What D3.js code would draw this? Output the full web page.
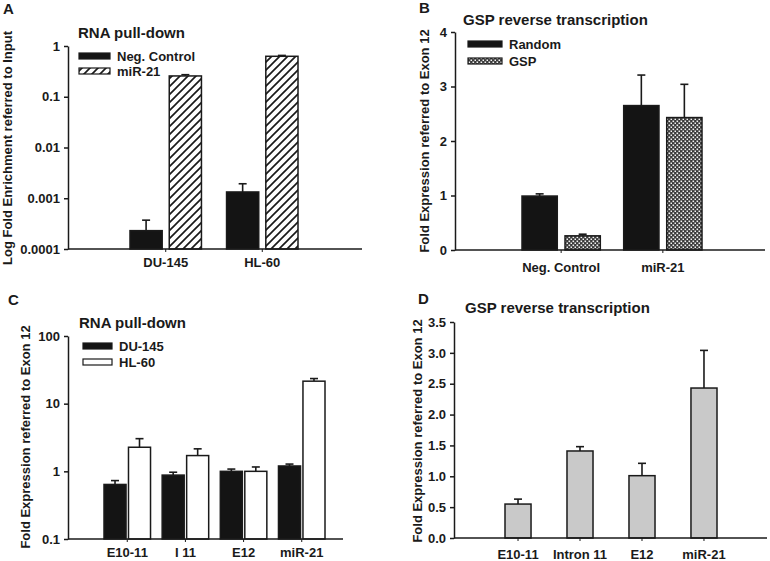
<!DOCTYPE html>
<html lang="en">
<head>
  <meta charset="UTF-8">
  <title>RNA pull-down / GSP reverse transcription</title>
  <style>
    body { margin: 0; background: #ffffff; }
    svg text { font-family: "Liberation Sans", Arial, sans-serif; font-weight: bold; fill: #1a1a1a; }
    .axis path, .axis line { stroke: #1a1a1a; stroke-width: 1.5px; fill: none; }
    .axis text { font-size: 13px; }
    .title { font-size: 15px; }
    .letter { font-size: 15px; }
    .ylabel { font-size: 13px; }
    .legend text { font-size: 13px; }
    .bar { stroke: #1a1a1a; stroke-width: 1.5px; }
    .err { stroke: #1a1a1a; stroke-width: 1.6px; fill: none; }
  </style>
</head>
<body>
<svg id="chart" width="770" height="561"></svg>

<script src="https://cdn.jsdelivr.net/npm/d3@7"></script>
<script>
  "use strict";

  // A: RNA pull-down, enrichment vs input (log)
  var catsA = ["DU-145", "HL-60"];
  var seriesA = ["Neg. Control", "miR-21"];
  var negA = [0.00023, 0.00133];
  var negErrA = [0.00014, 0.0006];
  var mirA = [0.257, 0.627];
  var mirErrA = [0.015, 0.025];
  var ticksA = [0.0001, 0.001, 0.01, 0.1, 1];

  // B: GSP reverse transcription
  var catsB = ["Neg. Control", "miR-21"];
  var seriesB = ["Random", "GSP"];
  var randomB = [0.99, 2.65];
  var randomErrB = [0.04, 0.56];
  var gspB = [0.26, 2.43];
  var gspErrB = [0.03, 0.61];
  var ticksB = [0, 1, 2, 3, 4];

  // C: RNA pull-down, expression vs exon 12 (log)
  var catsC = ["E10-11", "I 11", "E12", "miR-21"];
  var seriesC = ["DU-145", "HL-60"];
  var duC = [0.64, 0.88, 1.0, 1.2];
  var duErrC = [0.09, 0.09, 0.08, 0.08];
  var hlC = [2.27, 1.71, 1.0, 21.5];
  var hlErrC = [0.77, 0.44, 0.16, 2.0];
  var ticksC = [0.1, 1, 10, 100];

  // D: GSP reverse transcription per amplicon
  var catsD = ["E10-11", "Intron 11", "E12", "miR-21"];
  var valsD = [0.55, 1.41, 1.01, 2.43];
  var errD = [0.08, 0.07, 0.2, 0.61];
  var ticksD = [0, 0.5, 1, 1.5, 2, 2.5, 3, 3.5];

  var svg = d3.select("#chart");

  // fill patterns
  var defs = svg.append("defs");
  var hatch = defs.append("pattern")
    .attr("id", "hatch")
    .attr("patternUnits", "userSpaceOnUse")
    .attr("width", 8).attr("height", 8);
  hatch.append("rect").attr("width", 8).attr("height", 8).attr("fill", "#ffffff");
  hatch.append("path")
    .attr("d", "M-2,2 L2,-2 M0,8 L8,0 M6,10 L10,6")
    .attr("stroke", "#1a1a1a").attr("stroke-width", 1.7);

  var checker = defs.append("pattern")
    .attr("id", "checker")
    .attr("patternUnits", "userSpaceOnUse")
    .attr("width", 4).attr("height", 4);
  checker.append("rect").attr("width", 4).attr("height", 4).attr("fill", "#3a3a3a");
  checker.append("rect").attr("x", 0.5).attr("y", 0.5).attr("width", 1.6).attr("height", 1.6).attr("fill", "#f4f4f4");
  checker.append("rect").attr("x", 2.5).attr("y", 2.5).attr("width", 1.6).attr("height", 1.6).attr("fill", "#f4f4f4");

  function drawPanel(p) {
    var g = svg.append("g");

    var y = p.log
      ? d3.scaleLog().domain(p.domain).range([p.yBot, p.yTop])
      : d3.scaleLinear().domain(p.domain).range([p.yBot, p.yTop]);

    var x = d3.scaleBand()
      .domain(p.cats)
      .range(p.band)
      .paddingInner(p.padInner)
      .paddingOuter(0);

    var sub = d3.scaleBand()
      .domain(p.series.map(function(s) { return s.name; }))
      .range([0, x.bandwidth()])
      .paddingInner(p.subPad);

    // bars + error bars
    p.series.forEach(function(s) {
      var rows = p.cats.map(function(c, i) {
        return { cat: c, v: s.values[i], e: s.errors[i] };
      });
      var bx = function(d) { return x(d.cat) + sub(s.name); };
      var cx = function(d) { return bx(d) + sub.bandwidth() / 2; };

      g.selectAll(null)
        .data(rows)
        .enter()
        .append("line")
        .attr("class", "err")
        .attr("x1", cx).attr("x2", cx)
        .attr("y1", function(d) { return y(d.v); })
        .attr("y2", function(d) { return y(d.v + d.e); });

      g.selectAll(null)
        .data(rows)
        .enter()
        .append("line")
        .attr("class", "err")
        .attr("x1", function(d) { return cx(d) - 4; })
        .attr("x2", function(d) { return cx(d) + 4; })
        .attr("y1", function(d) { return y(d.v + d.e); })
        .attr("y2", function(d) { return y(d.v + d.e); });

      g.selectAll(null)
        .data(rows)
        .enter()
        .append("rect")
        .attr("class", "bar")
        .attr("x", bx)
        .attr("width", sub.bandwidth())
        .attr("y", function(d) { return y(d.v); })
        .attr("height", function(d) { return y(p.domain[0]) - y(d.v); })
        .attr("fill", s.fill);
    });

    // y axis
    g.append("g")
      .attr("class", "axis")
      .attr("transform", "translate(" + p.x0 + ",0)")
      .call(d3.axisLeft(y)
        .tickValues(p.ticks)
        .tickFormat(p.fmt)
        .tickSizeInner(4)
        .tickSizeOuter(0)
        .tickPadding(4));

    // x axis
    var xa = g.append("g")
      .attr("class", "axis")
      .attr("transform", "translate(0," + p.yBot + ")");
    xa.append("line")
      .attr("x1", p.x0).attr("x2", p.x1)
      .attr("y1", 0).attr("y2", 0);
    xa.selectAll(".xt")
      .data(p.cats)
      .enter()
      .append("line")
      .attr("x1", function(c) { return x(c) + x.bandwidth() / 2; })
      .attr("x2", function(c) { return x(c) + x.bandwidth() / 2; })
      .attr("y1", 0).attr("y2", 3)
      .style("stroke-width", "1px");
    xa.selectAll("text")
      .data(p.cats)
      .enter()
      .append("text")
      .attr("x", function(c) { return x(c) + x.bandwidth() / 2; })
      .attr("y", p.xLabelDy)
      .attr("text-anchor", "middle")
      .text(function(c) { return c; });

    // titles
    g.append("text").attr("class", "letter")
      .attr("x", p.letterPos[0]).attr("y", p.letterPos[1])
      .text(p.letter);
    g.append("text").attr("class", "title")
      .attr("x", p.titlePos[0]).attr("y", p.titlePos[1])
      .text(p.title);
    g.append("text").attr("class", "ylabel")
      .attr("transform", "translate(" + p.yLabelPos[0] + "," + p.yLabelPos[1] + ") rotate(-90)")
      .attr("text-anchor", "middle")
      .text(p.yLabel);

    // legend
    if (p.legend) {
      var lg = g.append("g")
        .attr("class", "legend")
        .attr("transform", "translate(" + p.legend[0] + "," + p.legend[1] + ")");
      var row = lg.selectAll("g")
        .data(p.series)
        .enter()
        .append("g")
        .attr("transform", function(d, i) { return "translate(0," + (i * p.legend[2]) + ")"; });
      row.append("rect")
        .attr("x", 0).attr("y", -3)
        .attr("width", p.legend[3]).attr("height", 6)
        .attr("fill", function(d) { return d.fill; })
        .attr("stroke", "#1a1a1a")
        .attr("stroke-width", 1.2);
      row.append("text")
        .attr("x", p.legend[3] + 7)
        .attr("y", 5)
        .text(function(d) { return d.name; });
    }
  }

  var fmtLogA = function(d) { return String(d); };

  drawPanel({
    letter: "A", letterPos: [3, 14],
    title: "RNA pull-down", titlePos: [78, 38],
    yLabel: "Log Fold Enrichment referred to Input", yLabelPos: [12, 148],
    log: true, domain: [0.0001, 1], ticks: ticksA, fmt: fmtLogA,
    x0: 68, x1: 362, yTop: 46, yBot: 249,
    cats: catsA, band: [130, 298], padInner: 0.26, subPad: 0.18,
    series: [
      { name: seriesA[0], values: negA, errors: negErrA, fill: "#141414" },
      { name: seriesA[1], values: mirA, errors: mirErrA, fill: "url(#hatch)" }
    ],
    xLabelDy: 18,
    legend: [79, 56, 15, 31]
  });

  drawPanel({
    letter: "B", letterPos: [419, 13],
    title: "GSP reverse transcription", titlePos: [463, 25],
    yLabel: "Fold Expression referred to Exon 12", yLabelPos: [429, 141],
    log: false, domain: [0, 4], ticks: ticksB, fmt: d3.format("d"),
    x0: 455, x1: 765, yTop: 32, yBot: 250,
    cats: catsB, band: [522, 702], padInner: 0.23, subPad: 0.18,
    series: [
      { name: seriesB[0], values: randomB, errors: randomErrB, fill: "#141414" },
      { name: seriesB[1], values: gspB, errors: gspErrB, fill: "url(#checker)" }
    ],
    xLabelDy: 22,
    legend: [468, 44, 17, 34]
  });

  drawPanel({
    letter: "C", letterPos: [8, 305],
    title: "RNA pull-down", titlePos: [79, 328],
    yLabel: "Fold Expression referred to Exon 12", yLabelPos: [30, 437],
    log: true, domain: [0.1, 100], ticks: ticksC, fmt: function(d) { return String(d); },
    x0: 68, x1: 343, yTop: 336, yBot: 539,
    cats: catsC, band: [104, 325], padInner: 0.2, subPad: 0.1,
    series: [
      { name: seriesC[0], values: duC, errors: duErrC, fill: "#141414" },
      { name: seriesC[1], values: hlC, errors: hlErrC, fill: "#ffffff" }
    ],
    xLabelDy: 18,
    legend: [83, 346, 16, 29]
  });

  drawPanel({
    letter: "D", letterPos: [418, 304],
    title: "GSP reverse transcription", titlePos: [465, 313],
    yLabel: "Fold Expression referred to Exon 12", yLabelPos: [422, 431],
    log: false, domain: [0, 3.5], ticks: ticksD, fmt: d3.format(".1f"),
    x0: 454, x1: 767, yTop: 322, yBot: 538,
    cats: catsD, band: [505, 717], padInner: 0.58, subPad: 0,
    series: [
      { name: "GSP", values: valsD, errors: errD, fill: "#c9c9c9" }
    ],
    xLabelDy: 21,
    legend: null
  });
</script>
</body>
</html>
